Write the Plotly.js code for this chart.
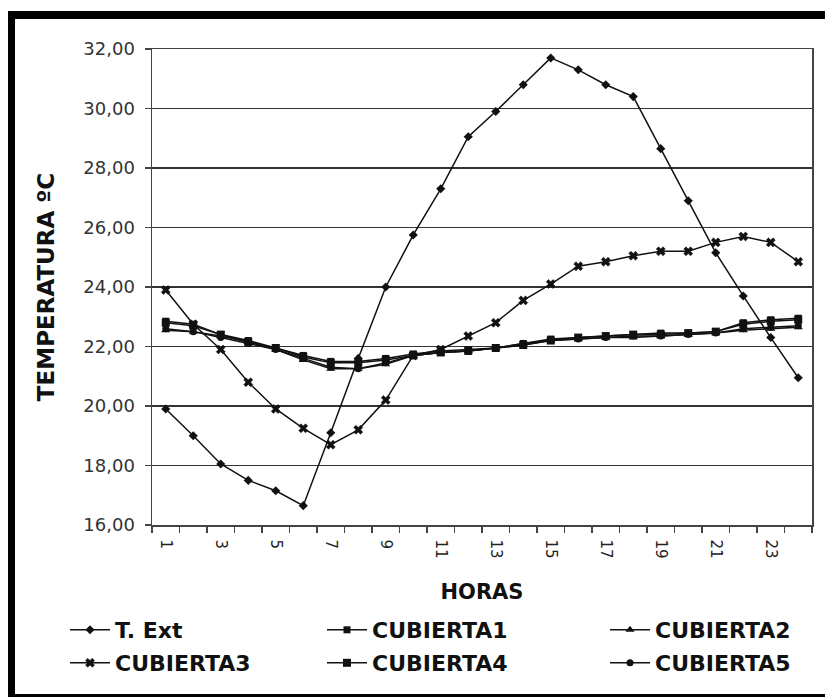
<!DOCTYPE html>
<html>
<head>
<meta charset="utf-8">
<script src="https://cdn.plot.ly/plotly-3.0.1.min.js"></script>
<style>html,body{margin:0;padding:0;background:#fff;}</style>
</head>
<body>
<div id="chart" style="width:825px;height:697px;"></div>
<script>
var horas = [1,2,3,4,5,6,7,8,9,10,11,12,13,14,15,16,17,18,19,20,21,22,23,24];
var tExt = [19.9,19.0,18.05,17.5,17.15,16.65,19.1,21.6,24.0,25.75,27.3,29.05,29.9,30.8,31.7,31.3,30.8,30.4,28.65,26.9,25.15,23.7,22.3,20.95];
var cubierta1 = [22.85,22.75,22.4,22.2,21.95,21.7,21.5,21.5,21.6,21.75,21.85,21.9,21.95,22.1,22.25,22.3,22.35,22.4,22.45,22.45,22.5,22.8,22.9,22.95];
var cubierta2 = [22.55,22.5,22.35,22.15,21.9,21.55,21.25,21.25,21.4,21.7,21.8,21.85,21.95,22.1,22.2,22.25,22.3,22.3,22.35,22.4,22.45,22.55,22.6,22.65];
var cubierta3 = [23.9,22.75,21.9,20.8,19.9,19.25,18.7,19.2,20.2,21.7,21.9,22.35,22.8,23.55,24.1,24.7,24.85,25.05,25.2,25.2,25.5,25.7,25.5,24.85];
var cubierta4 = [22.8,22.7,22.4,22.15,21.95,21.65,21.45,21.45,21.55,21.7,21.8,21.85,21.95,22.05,22.2,22.3,22.35,22.4,22.4,22.45,22.5,22.75,22.85,22.9];
var cubierta5 = [22.6,22.5,22.3,22.1,21.9,21.6,21.3,21.25,21.45,21.7,21.8,21.85,21.95,22.05,22.2,22.25,22.3,22.35,22.35,22.4,22.45,22.6,22.65,22.7];
var seriesNames = ['T. Ext','CUBIERTA1','CUBIERTA2','CUBIERTA3','CUBIERTA4','CUBIERTA5'];
var xTickVals = [1,3,5,7,9,11,13,15,17,19,21,23];
var xTickText = ['1','3','5','7','9','11','13','15','17','19','21','23'];
var yTickVals = [16,18,20,22,24,26,28,30,32];

var seriesData = [tExt,cubierta1,cubierta2,cubierta3,cubierta4,cubierta5];
var symbols = ['diamond','square','triangle-up','x','square','circle'];
var sizes = [7,7,8,8,8,7];
var legendIds = ['legend','legend2','legend3','legend4','legend5','legend6'];

var traces = seriesData.map(function(d,i){
  return {
    x: horas, y: d, name: seriesNames[i], type:'scatter', mode:'lines+markers',
    line:{color:'#111', width:1.5},
    marker:{symbol:symbols[i], size:sizes[i], color:'#111', line:{color:'#111', width: symbols[i]==='x'?0.5:0}},
    legend: legendIds[i], showlegend:true
  };
});

var F = '"DejaVu Sans", Arial, sans-serif';
function px2x(p){return (p-152)/660;}
function px2y(p){return (525-p)/476;}

var legendCommon = {
  orientation:'v', xanchor:'left', yanchor:'middle',
  font:{family:F, size:22, color:'#111', weight:'bold'},
  itemwidth: 40, bgcolor:'rgba(0,0,0,0)'
};
var colX = [65, 322, 605];
var rowY = [630, 663];

var layout = {
  width:825, height:697,
  paper_bgcolor:'#fff', plot_bgcolor:'#fff',
  margin:{l:152, r:13, t:49, b:172},
  separators:',.',
  showlegend:true,
  xaxis:{
    range:[0.5,24.5], tickmode:'array', tickvals:xTickVals, ticktext:xTickText,
    ticks:'', tickangle:90, showgrid:false, zeroline:false,
    showline:true, linecolor:'#444', linewidth:1.5, mirror:true,
    tickfont:{family:F, size:15, color:'#222'}, ticklabelstandoff:10,
    minor:{tickmode:'linear', tick0:0.5, dtick:1, ticks:'outside', ticklen:6, tickcolor:'#444', tickwidth:1.5, showgrid:false},
    title:{text:'HORAS', font:{family:F, size:21, color:'#111', weight:'bold'}, standoff:26}
  },
  yaxis:{
    range:[16,32], tickmode:'array', tickvals:yTickVals, tickformat:'.2f',
    ticks:'outside', ticklen:6, tickcolor:'#444', tickwidth:1.5,
    showgrid:true, gridcolor:'#333', gridwidth:1.5, zeroline:false,
    showline:true, linecolor:'#444', linewidth:1.5, mirror:true,
    tickfont:{family:F, size:18, color:'#333'}, ticklabelstandoff:6,
    title:{text:'TEMPERATURA ºC', font:{family:F, size:23, color:'#111', weight:'bold'}, standoff:22}
  },
  shapes:[
    {type:'rect', xref:'paper', yref:'paper', x0:px2x(8), x1:px2x(826), y0:px2y(19), y1:px2y(11), fillcolor:'#000', line:{width:0}, layer:'above'},
    {type:'rect', xref:'paper', yref:'paper', x0:px2x(8), x1:px2x(15), y0:px2y(698), y1:px2y(11), fillcolor:'#000', line:{width:0}, layer:'above'},
    {type:'rect', xref:'paper', yref:'paper', x0:px2x(8), x1:px2x(826), y0:px2y(697), y1:px2y(694), fillcolor:'#000', line:{width:0}, layer:'above'}
  ]
};
legendIds.forEach(function(id,i){
  layout[id] = Object.assign({}, legendCommon, {x:px2x(colX[i%3]), y:px2y(rowY[Math.floor(i/3)])});
});

Plotly.newPlot('chart', traces, layout, {displayModeBar:false, staticPlot:true});
</script>
</body>
</html>
